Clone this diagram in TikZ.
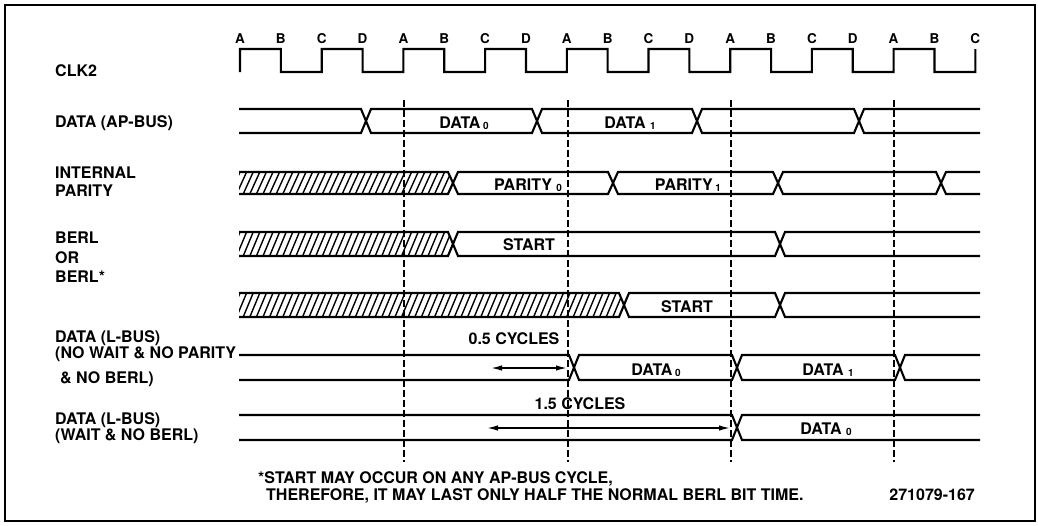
\documentclass[tikz,border=0pt]{standalone}
\usepackage{fontspec}
\setmainfont{TeX Gyre Heros}
\usepackage{tikz}
\usetikzlibrary{arrows.meta}

\newcommand{\lowidx}[1]{\raisebox{-1pt}{\fontsize{10}{10}\selectfont #1}}

\begin{document}
\begin{tikzpicture}[
	x=1pt, y=-1pt,
	wave/.style={line width=2.1pt, line join=miter},
	hatchline/.style={line width=1.4pt},
	cycline/.style={line width=2.5pt, dash pattern=on 7pt off 3pt},
	siglbl/.style={anchor=base west, inner sep=0pt, font=\bfseries\fontsize{16}{18}\selectfont},
	busval/.style={anchor=base, inner sep=0pt, font=\bfseries\fontsize{16}{18}\selectfont},
	clkletter/.style={anchor=base, inner sep=0pt, font=\bfseries\fontsize{13.5}{14}\selectfont},
	cycarrow/.style={{Latex[length=11pt,width=5.5pt]}-{Latex[length=11pt,width=5.5pt]}, line width=1.5pt}
	]
	\useasboundingbox (0,0) rectangle (1038,525);
	\draw[line width=2.8pt] (5,5) rectangle (1035,521);

	% signal names
	\node[siglbl] (clk) at (55,76) {CLK2};
	\node[siglbl] (apbus) at (55,127) {DATA (AP-BUS)};
	\node[siglbl] (ipar1) at (55,178) {INTERNAL};
	\node[siglbl] (ipar2) at (55,196) {PARITY};
	\node[siglbl] (berl1) at (55,243) {BERL};
	\node[siglbl] (berl2) at (55,263) {OR};
	\node[siglbl] (berl3) at (55,282) {BERL*};
	\node[siglbl] (lbus1) at (55,342) {DATA (L-BUS)};
	\node[siglbl] (lbus2) at (55,358) {(NO WAIT \& NO PARITY};
	\node[siglbl] (lbus3) at (60,383) {\& NO BERL)};
	\node[siglbl] (wbus1) at (55,424) {DATA (L-BUS)};
	\node[siglbl] (wbus2) at (55,440) {(WAIT \& NO BERL)};

	% clock
	\foreach \l [count=\k from 0] in {A,B,C,D,A,B,C,D,A,B,C,D,A,B,C,D,A,B,C}
		\node[clkletter] (edge\k) at ({240+40.85*\k},43) {\l};
	\draw[wave] (240,72) foreach \k in {0,...,8} { -- ({240+81.7*\k},49) -- ({280.85+81.7*\k},49) -- ({280.85+81.7*\k},72) -- ({321.7+81.7*\k},72) } -- (975.3,49);

	% hatched (undefined) parts
	\begin{scope}
		\clip (239,172) -- (448,172) -- (453,183) -- (448,194) -- (239,194) -- cycle;
		\foreach \x in {230,236.6,...,460} \draw[hatchline] (\x,194) -- ({\x+10},172);
	\end{scope}
	\begin{scope}
		\clip (239,232) -- (448,232) -- (453,244) -- (448,256) -- (239,256) -- cycle;
		\foreach \x in {230,236.6,...,460} \draw[hatchline] (\x,256) -- ({\x+10},232);
	\end{scope}
	\begin{scope}
		\clip (239,293) -- (619,293) -- (624,305) -- (619,317) -- (239,317) -- cycle;
		\foreach \x in {230,236.6,...,630} \draw[hatchline] (\x,317) -- ({\x+10},293);
	\end{scope}

	% busses
	\draw[wave] (239,109) foreach \c in {366,537,697,859} { -- ({\c-5},109) -- (\c,121) -- ({\c+5},109) } -- (980,109);
	\draw[wave] (239,133) foreach \c in {366,537,697,859} { -- ({\c-5},133) -- (\c,121) -- ({\c+5},133) } -- (980,133);
	\draw[wave] (239,172) foreach \c in {453,613,778,941} { -- ({\c-5},172) -- (\c,183) -- ({\c+5},172) } -- (980,172);
	\draw[wave] (239,194) foreach \c in {453,613,778,941} { -- ({\c-5},194) -- (\c,183) -- ({\c+5},194) } -- (980,194);
	\draw[wave] (239,232) foreach \c in {453,780} { -- ({\c-5},232) -- (\c,244) -- ({\c+5},232) } -- (980,232);
	\draw[wave] (239,256) foreach \c in {453,780} { -- ({\c-5},256) -- (\c,244) -- ({\c+5},256) } -- (980,256);
	\draw[wave] (239,293) foreach \c in {624,780} { -- ({\c-5},293) -- (\c,305) -- ({\c+5},293) } -- (980,293);
	\draw[wave] (239,317) foreach \c in {624,780} { -- ({\c-5},317) -- (\c,305) -- ({\c+5},317) } -- (980,317);
	\draw[wave] (239,355) foreach \c in {574,737,900} { -- ({\c-5},355) -- (\c,367.5) -- ({\c+5},355) } -- (980,355);
	\draw[wave] (239,380) foreach \c in {574,737,900} { -- ({\c-5},380) -- (\c,367.5) -- ({\c+5},380) } -- (980,380);
	\draw[wave] (239,415) foreach \c in {737} { -- ({\c-5},415) -- (\c,427.5) -- ({\c+5},415) } -- (980,415);
	\draw[wave] (239,440) foreach \c in {737} { -- ({\c-5},440) -- (\c,427.5) -- ({\c+5},440) } -- (980,440);

	% A-edge markers
	\foreach \x in {404,568,731,894}
		\draw[cycline] (\x,100) -- (\x,462);

	% bus values
	\node[busval] (d0) at (464,128) {DATA\,\lowidx{0}};
	\node[busval] (d1) at (630,128) {DATA\ \lowidx{1}};
	\node[busval] (p0) at (528,190) {PARITY\ \lowidx{0}};
	\node[busval] (p1) at (688,190) {PARITY\,\lowidx{1}};
	\node[busval] (s0) at (529,250) {START};
	\node[busval] (s1) at (687,312) {START};
	\node[busval] (ld0) at (656,375) {DATA\,\lowidx{0}};
	\node[busval] (ld1) at (828,375) {DATA\ \lowidx{1}};
	\node[busval] (wd0) at (826,434) {DATA\ \lowidx{0}};

	% delays
	\node[busval] (half) at (514,344) {0.5 CYCLES};
	\coordinate (h0) at (491,368);
	\coordinate (h1) at (567,368);
	\draw[cycarrow] (h0) -- (h1);
	\node[busval] (onehalf) at (580,409) {1.5 CYCLES};
	\coordinate (w0) at (487,428);
	\coordinate (w1) at (730,428);
	\draw[cycarrow] (w0) -- (w1);

	% note
	\node[siglbl] (note1) at (258,483) {*START MAY OCCUR ON ANY AP-BUS CYCLE,};
	\node[siglbl] (note2) at (266,500) {THEREFORE, IT MAY LAST ONLY HALF THE NORMAL BERL BIT TIME.};
	\node[siglbl, anchor=base east] (fig) at (975,500) {271079-167};
\end{tikzpicture}
\end{document}
